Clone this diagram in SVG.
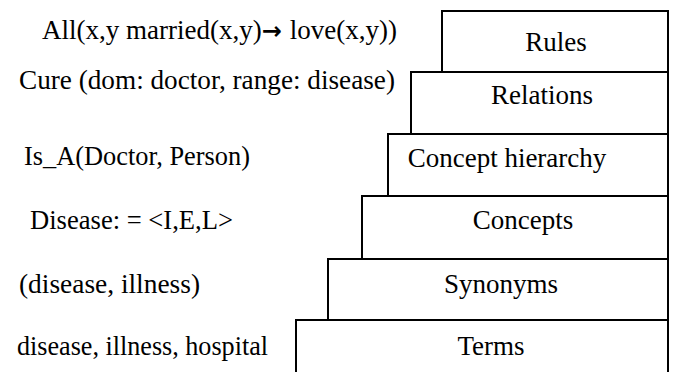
<svg xmlns="http://www.w3.org/2000/svg" width="675" height="372" viewBox="0 0 675 372">
<style>
text{font-family:"Liberation Serif","Times New Roman",serif;font-size:27px;fill:#000}
.lbl{text-anchor:middle}
.box{fill:#fff;stroke:#000;stroke-width:2}
.arr{font-family:"DejaVu Sans",sans-serif;font-weight:bold;font-size:24px}
</style>
<rect width="675" height="372" fill="#fff"/>
<g id="connectors"></g>
<g id="terms"><rect class="box" x="296" y="320" width="372" height="70"/><text class="lbl" x="491" y="355">Terms</text></g>
<g id="synonyms"><rect class="box" x="328" y="259" width="340" height="61"/><text class="lbl" x="501" y="293">Synonyms</text></g>
<g id="concepts"><rect class="box" x="362" y="196" width="306" height="63"/><text class="lbl" x="523" y="229">Concepts</text></g>
<g id="concept-hierarchy"><rect class="box" x="388" y="134" width="280" height="62"/><text class="lbl" x="507" y="167">Concept hierarchy</text></g>
<g id="relations"><rect class="box" x="411" y="72" width="257" height="62"/><text class="lbl" x="542" y="104">Relations</text></g>
<g id="rules"><rect class="box" x="442" y="11" width="226" height="61"/><text class="lbl" x="556" y="51">Rules</text></g>
<g id="examples">
<text x="42" y="39">All(x,y married(x,y)<tspan class="arr">→</tspan><tspan dx="8">love(x,y))</tspan></text>
<text x="19" y="89" textLength="376" lengthAdjust="spacingAndGlyphs">Cure (dom: doctor, range: disease)</text>
<text x="24" y="165" textLength="226" lengthAdjust="spacingAndGlyphs">Is_A(Doctor, Person)</text>
<text x="30" y="229" textLength="203" lengthAdjust="spacingAndGlyphs">Disease: = &lt;I,E,L&gt;</text>
<text x="19" y="293" textLength="181" lengthAdjust="spacingAndGlyphs">(disease, illness)</text>
<text x="17" y="355" textLength="251" lengthAdjust="spacingAndGlyphs">disease, illness, hospital</text>
</g>
</svg>
